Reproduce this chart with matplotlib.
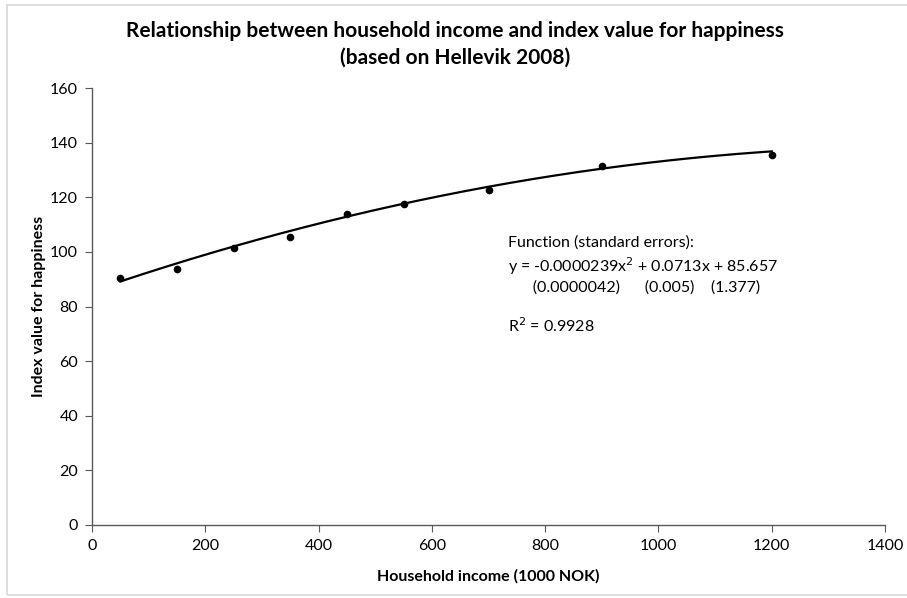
import numpy as np
import matplotlib.pyplot as plt
from matplotlib.patches import Rectangle

plt.rcParams['font.family'] = ['Lato', 'DejaVu Sans']

# household income (1000 NOK) and index value for happiness
income    = [50, 150, 250, 350, 450, 550, 700, 900, 1200]
happiness = [90.5, 93.8, 101.5, 105.6, 113.9, 117.6, 122.7, 131.5, 135.6]

# quadratic fit: a*x^2 + b*x + c
coef      = [-0.0000239, 0.0713, 85.657]
coef_se   = ['(0.0000042)', '(0.005)', '(1.377)']
r2        = 0.9928

fig = plt.figure(figsize=(9.07, 5.98), dpi=100)
ax  = fig.add_axes([0.1014, 0.1221, 0.8744, 0.7307])

# thin frame round the chart area (right edge runs off the image)
fig.patches.append(Rectangle((7/907, 3/598), 1.2, 590/598, transform=fig.transFigure,
                             fill=False, edgecolor='#d9d9d9', linewidth=1.2))

xfit = np.linspace(min(income), max(income), 200)
yfit = np.polyval(coef, xfit)
ax.plot(xfit, yfit, color='k', lw=1.6)
ax.plot(income, happiness, 'o', color='k', ms=4.5)

ax.set_xlim(0, 1400)
ax.set_ylim(0, 160)
ax.set_xticks(np.arange(0, 1401, 200))
ax.set_yticks(np.arange(0, 161, 20))
for s in ['top', 'right']:
    ax.spines[s].set_visible(False)
for s in ['left', 'bottom']:
    ax.spines[s].set_color('#595959')
    ax.spines[s].set_linewidth(1.0)
ax.tick_params(direction='out', length=5, color='#595959', labelsize=11.5, pad=5)

ax.set_xlabel('Household income (1000 NOK)', fontsize=11.5, fontweight='bold', labelpad=12)
ax.set_ylabel('Index value for happiness', fontsize=11.5, fontweight='bold', labelpad=3)
fig.text(0.502, 0.926, 'Relationship between household income and index value for happiness\n(based on Hellevik 2008)',
         ha='center', va='center', fontsize=15, fontweight='bold', linespacing=1.4)

eq = ('Function (standard errors):\n'
      'y = %.7fx$^2$ + %.4fx + %.3f\n'
      '      %s      %s    %s\n\n'
      'R$^2$ = %.4f') % (coef[0], coef[1], coef[2], coef_se[0], coef_se[1], coef_se[2], r2)
ax.text(735, 106, eq, fontsize=11.5, va='top', ha='left', linespacing=1.3)

fig.savefig('out.png', dpi=100)
